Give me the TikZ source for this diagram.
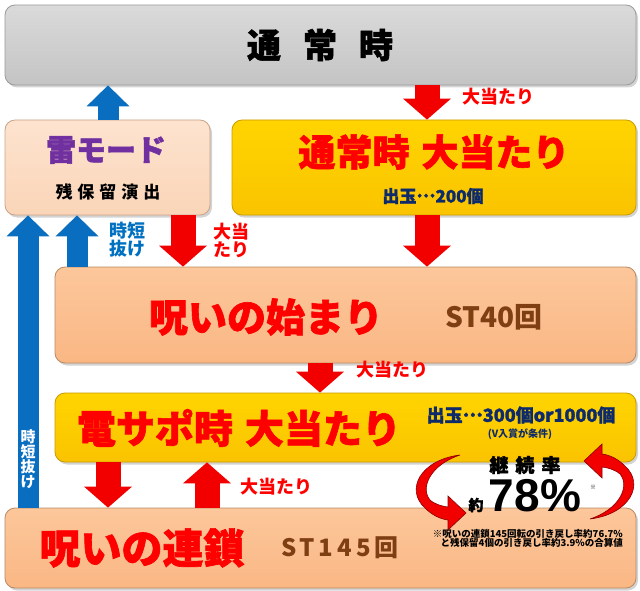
\documentclass[tikz,border=0pt]{standalone}
\usepackage{fontspec}
\newfontfamily\jp{Noto Sans CJK JP}
\newfontfamily\jph{Noto Sans CJK JP}[BoldFeatures={FakeBold=1.6}]
\newfontfamily\lat{Liberation Sans}
\usetikzlibrary{arrows.meta,shadows}
\definecolor{grayT}{HTML}{DADADA}
\definecolor{grayB}{HTML}{C4C4C4}
\definecolor{grayD}{HTML}{9A9A9A}
\definecolor{peachT}{HTML}{FDE3CF}
\definecolor{peachB}{HTML}{FAD5B8}
\definecolor{peachD}{HTML}{C9A488}
\definecolor{oranT}{HTML}{FCC79B}
\definecolor{oranB}{HTML}{FAB784}
\definecolor{oranD}{HTML}{B98A64}
\definecolor{yelT}{HTML}{FFD400}
\definecolor{yelB}{HTML}{FAC400}
\definecolor{yelD}{HTML}{C89B00}
\definecolor{tred}{HTML}{FF0000}
\definecolor{apurple}{HTML}{7030A0}
\definecolor{navy}{HTML}{0D2A6B}
\definecolor{sbrown}{HTML}{7F3F12}
\definecolor{ablue}{HTML}{0A6EC0}
\definecolor{tblue}{HTML}{0070C0}
\definecolor{ared}{HTML}{F20000}
\definecolor{dred}{HTML}{8A0000}
\newcommand\fsz[1]{\fontsize{#1}{#1}\selectfont}
\newcommand\mdots{\raisebox{0.3em}{…}}
\tikzset{
  boxbase/.style={rounded corners=10pt, line width=0.8pt, inner sep=0pt,
    drop shadow={opacity=0.35, shadow xshift=2pt, shadow yshift=-2.5pt}},
  graybox/.style={boxbase, top color=grayT, bottom color=grayB, draw=grayD},
  peachbox/.style={boxbase, top color=peachT, bottom color=peachB, draw=peachD},
  oranbox/.style={boxbase, top color=oranT, bottom color=oranB, draw=oranD},
  yelbox/.style={boxbase, top color=yelT, bottom color=yelB, draw=yelD},
  txt/.style={inner sep=0pt, font=\jp\bfseries},
  title/.style={txt, text=tred},
  lbl/.style={txt, text=tred, font=\jp\bfseries\fsz{18}},
  redarr/.style={draw=ared, line width=25pt,
    -{Triangle[width=48pt,length=21pt,line width=0pt]}},
  bluearr/.style={draw=ablue, line width=21pt,
    -{Triangle[width=43pt,length=21pt,line width=0pt]}},
}
\begin{document}
\begin{tikzpicture}[x=1pt,y=-1pt]
\useasboundingbox (0,0) rectangle (640,591);
% boxes
\node[graybox, minimum width=631pt, minimum height=80pt] (top) at (320.5,45) {};
\node[peachbox, minimum width=205pt, minimum height=95pt] (kam) at (107.5,167.5) {};
\node[yelbox, minimum width=404pt, minimum height=95pt] (y1) at (434,167.5) {};
\node[oranbox, minimum width=581pt, minimum height=96pt] (n1) at (345.5,315) {};
\node[yelbox, minimum width=581pt, minimum height=69pt] (y2) at (345.5,427.5) {};
\node[oranbox, minimum width=631pt, minimum height=80pt] (n2) at (320.5,548) {};
% texts in boxes
\node[txt, font=\jph\bfseries\fsz{34}] (toptxt) at (320,45) {通\hspace{22pt}常\hspace{22pt}時};
\node[txt, text=apurple, font=\jph\bfseries\fsz{30}] (kamt) at (106,150) {雷モード};
\node[txt, font=\jp\bfseries\fsz{17}] (kams) at (108,192) {残\hspace{5pt}保\hspace{5pt}留\hspace{5pt}演\hspace{5pt}出};
\node[title, font=\jph\bfseries\fsz{37}] (y1t) at (434,152) {通常時\hspace{12pt}大当たり};
\node[txt, text=navy, font=\jph\bfseries\fsz{17}] (y1s) at (433,196) {出玉\mdots 200個};
\node[title, font=\jph\bfseries\fsz{39}] (n1t) at (266,317) {呪いの始まり};
\node[txt, text=sbrown, font=\jp\bfseries\fsz{28}] (n1s) at (494,317) {ST40回};
\node[title, font=\jph\bfseries\fsz{39}] (y2t) at (239,428) {電サポ時\hspace{12pt}大当たり};
\node[txt, text=navy, font=\jph\bfseries\fsz{18}] (y2s) at (521,415) {出玉\mdots 300個or1000個};
\node[txt, text=navy, font=\jp\bfseries\fsz{10}] (y2c) at (520,434) {(V入賞が条件)};
\node[title, font=\jph\bfseries\fsz{41}] (n2t) at (142,548) {呪いの連鎖};
\node[txt, text=sbrown, font=\jp\bfseries\fsz{24}] (n2s) at (340,548) {S\hspace{3pt}T\hspace{4pt}1\hspace{4pt}4\hspace{4pt}5\hspace{4pt}回};
% arrows
\draw[bluearr] (kam.north -| 108,0) -- (top.south -| 108,0);
\draw[redarr] (top.south -| 427,0) -- (y1.north -| 427,0);
\draw[bluearr] (n1.north -| 77,0) -- (kam.south -| 77,0);
\draw[bluearr] (n2.north -| 28,0) -- (kam.south -| 28,0);
\draw[redarr] (kam.south -| 183,0) -- (n1.north -| 183,0);
\draw[redarr] (y1.south -| 427,0) -- (n1.north -| 427,0);
\draw[redarr] (n1.south -| 320,0) -- (y2.north -| 320,0);
\draw[redarr] (y2.south -| 108,0) -- (n2.north -| 108,0);
\draw[redarr] (n2.north -| 207,0) -- (y2.south -| 207,0);
% arrow labels
\node[lbl] (l1) at (498,97) {大当たり};
\node[txt, text=tblue, font=\jp\bfseries\fsz{18}, align=left] (l2) at (127,240) {\fontsize{18}{24}\selectfont 時短\\抜け};
\node[lbl, align=left] (l3) at (231,240) {\fontsize{18}{24}\selectfont 大当\\たり};
\node[lbl] (l4) at (392,370) {大当たり};
\node[lbl] (l5) at (276,487) {大当たり};
\node[txt, text=white, font=\jp\bfseries\fsz{15}, align=center] (l6) at (28,459) {\fontsize{15}{21}\selectfont 時\\短\\抜\\け};
% rate
\node[txt, font=\jph\bfseries\fsz{19}] (rate) at (525,465) {継\hspace{7pt}続\hspace{7pt}率};
\node[txt, font=\jph\bfseries\fsz{15}] (yaku) at (476,505) {約};
\node[txt, font=\lat\bfseries\fsz{46}] (pct) at (535,496) {78\%};
\node[txt, font=\jp\fsz{6}] (kome) at (593,487) {※};
\node[txt, font=\jp\bfseries\fsz{9.5}, align=right, anchor=north east] (note) at (623,529) {\fontsize{9.5}{12}\selectfont ※呪いの連鎖145回転の引き戻し率約76.7\%\\と残保留4個の引き戻し率約3.9\%の合算値};
% circular arrows
\filldraw[fill=ared, draw=dred, line width=0.6pt]
  (460,455) .. controls (420,460) and (405,490) .. (425,508)
  .. controls (432,515) and (440,519) .. (448,520)
  -- (448,530) -- (466,513) -- (448,496) -- (448,507)
  .. controls (440,506) and (433,503) .. (430,500)
  .. controls (420,488) and (430,465) .. (460,455) -- cycle;
\filldraw[fill=ared, draw=dred, line width=0.6pt]
  (590,519) .. controls (630,514) and (645,484) .. (625,466)
  .. controls (618,459) and (610,455) .. (602,454)
  -- (602,444) -- (584,461) -- (602,478) -- (602,467)
  .. controls (610,468) and (617,471) .. (620,474)
  .. controls (630,486) and (620,509) .. (590,519) -- cycle;
\end{tikzpicture}
\end{document}
